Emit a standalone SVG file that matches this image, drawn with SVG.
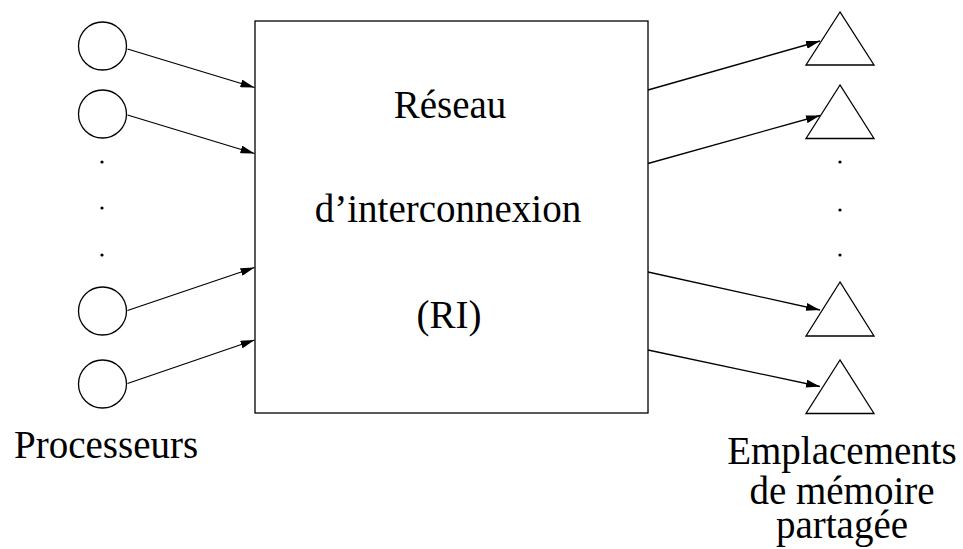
<svg xmlns="http://www.w3.org/2000/svg" width="963" height="549" viewBox="0 0 963 549">
<style>
.w{fill:#fff;stroke:#000;stroke-width:1.3}
.t{font-family:"Liberation Serif","Times New Roman",serif;font-size:39px;fill:#000}
.c{stroke:#000;stroke-width:1.3;fill:none;marker-end:url(#ah)}
.d{fill:#000}
</style>
<defs>
<marker id="ah" viewBox="0 0 14 8" refX="14" refY="4" markerWidth="14" markerHeight="8" markerUnits="userSpaceOnUse" orient="auto">
<path d="M0,0 L14,4 L0,8 Z" fill="#000"/>
</marker>
</defs>
<g id="ri">
<rect x="255" y="21" width="393" height="392" class="w"/>
<text class="t" x="450" y="118" text-anchor="middle">Réseau</text>
<text class="t" x="448" y="222" text-anchor="middle">d’interconnexion</text>
<text class="t" x="449" y="328" text-anchor="middle">(RI)</text>
</g>
<g id="p1"><circle cx="102.5" cy="46" r="24" class="w"/></g>
<g id="p2"><circle cx="102.5" cy="114" r="24" class="w"/></g>
<g id="p3"><circle cx="102.5" cy="311" r="24" class="w"/></g>
<g id="p4"><circle cx="102.5" cy="384" r="24" class="w"/></g>
<g id="pdots">
<circle cx="102" cy="162" r="1.6" class="d"/>
<circle cx="102" cy="208" r="1.6" class="d"/>
<circle cx="102" cy="255" r="1.6" class="d"/>
</g>
<g id="m1"><polygon points="840,12 806,65 874,65" class="w"/></g>
<g id="m2"><polygon points="840,85 806,138.5 874,138.5" class="w"/></g>
<g id="m3"><polygon points="840,282 806,336 874,336" class="w"/></g>
<g id="m4"><polygon points="840,360 806,413.5 874,413.5" class="w"/></g>
<g id="mdots">
<circle cx="840" cy="162" r="1.6" class="d"/>
<circle cx="840" cy="210" r="1.6" class="d"/>
<circle cx="840" cy="255" r="1.6" class="d"/>
</g>
<g id="connectors">
<line x1="127.5" y1="49" x2="254.5" y2="87.5" class="c"/>
<line x1="127.5" y1="115" x2="254.5" y2="153.5" class="c"/>
<line x1="127.5" y1="310.5" x2="254.5" y2="267.5" class="c"/>
<line x1="127.5" y1="383.5" x2="254.5" y2="340" class="c"/>
<line x1="648" y1="90" x2="820" y2="41" class="c"/>
<line x1="648" y1="163.5" x2="820" y2="115.5" class="c"/>
<line x1="648" y1="272" x2="820" y2="310" class="c"/>
<line x1="648" y1="350" x2="820" y2="386.5" class="c"/>
</g>
<g id="labels">
<text class="t" x="14" y="458">Processeurs</text>
<text class="t" x="842" y="464" text-anchor="middle">Emplacements</text>
<text class="t" x="842" y="504" text-anchor="middle">de mémoire</text>
<text class="t" x="842" y="538" text-anchor="middle">partagée</text>
</g>
</svg>
